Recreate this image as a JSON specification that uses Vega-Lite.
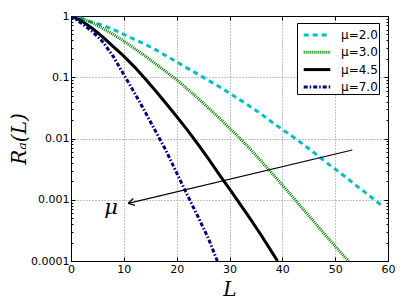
{
  "$schema": "https://vega.github.io/schema/vega-lite/v6.json",
  "width": 317,
  "height": 245,
  "autosize": {"type": "none"},
  "padding": {"left": 71, "top": 16, "right": 21, "bottom": 46},
  "background": "white",
  "config": {
    "view": {"stroke": "#000000", "strokeWidth": 1},
    "axis": {"domainColor": "#000000", "tickColor": "#000000", "labelFont": "DejaVu Sans", "labelFontSize": 11, "labelColor": "#000000"},
    "legend": {"labelFont": "DejaVu Sans", "labelFontSize": 12, "labelColor": "#000000"}
  },
  "datasets": {
    "curves": [
      {"L": 0, "R": 1, "series": "μ=2.0"},
      {"L": 2, "R": 0.912, "series": "μ=2.0"},
      {"L": 4, "R": 0.794, "series": "μ=2.0"},
      {"L": 6, "R": 0.708, "series": "μ=2.0"},
      {"L": 8, "R": 0.603, "series": "μ=2.0"},
      {"L": 10, "R": 0.501, "series": "μ=2.0"},
      {"L": 12, "R": 0.417, "series": "μ=2.0"},
      {"L": 14, "R": 0.347, "series": "μ=2.0"},
      {"L": 16, "R": 0.282, "series": "μ=2.0"},
      {"L": 18, "R": 0.224, "series": "μ=2.0"},
      {"L": 20, "R": 0.178, "series": "μ=2.0"},
      {"L": 22, "R": 0.141, "series": "μ=2.0"},
      {"L": 24, "R": 0.112, "series": "μ=2.0"},
      {"L": 26, "R": 0.0891, "series": "μ=2.0"},
      {"L": 28, "R": 0.0708, "series": "μ=2.0"},
      {"L": 30, "R": 0.055, "series": "μ=2.0"},
      {"L": 32, "R": 0.0427, "series": "μ=2.0"},
      {"L": 34, "R": 0.0331, "series": "μ=2.0"},
      {"L": 36, "R": 0.0251, "series": "μ=2.0"},
      {"L": 38, "R": 0.0186, "series": "μ=2.0"},
      {"L": 40, "R": 0.0141, "series": "μ=2.0"},
      {"L": 42, "R": 0.0107, "series": "μ=2.0"},
      {"L": 44, "R": 0.00794, "series": "μ=2.0"},
      {"L": 46, "R": 0.00589, "series": "μ=2.0"},
      {"L": 48, "R": 0.00427, "series": "μ=2.0"},
      {"L": 50, "R": 0.00316, "series": "μ=2.0"},
      {"L": 52, "R": 0.00234, "series": "μ=2.0"},
      {"L": 54, "R": 0.0017, "series": "μ=2.0"},
      {"L": 56, "R": 0.00126, "series": "μ=2.0"},
      {"L": 58, "R": 0.000912, "series": "μ=2.0"},
      {"L": 59, "R": 0.00078, "series": "μ=2.0"},
      {"L": 0, "R": 1, "series": "μ=3.0"},
      {"L": 2, "R": 0.912, "series": "μ=3.0"},
      {"L": 4, "R": 0.776, "series": "μ=3.0"},
      {"L": 6, "R": 0.631, "series": "μ=3.0"},
      {"L": 8, "R": 0.501, "series": "μ=3.0"},
      {"L": 10, "R": 0.389, "series": "μ=3.0"},
      {"L": 12, "R": 0.295, "series": "μ=3.0"},
      {"L": 14, "R": 0.224, "series": "μ=3.0"},
      {"L": 16, "R": 0.166, "series": "μ=3.0"},
      {"L": 18, "R": 0.123, "series": "μ=3.0"},
      {"L": 20, "R": 0.0912, "series": "μ=3.0"},
      {"L": 22, "R": 0.0646, "series": "μ=3.0"},
      {"L": 24, "R": 0.0457, "series": "μ=3.0"},
      {"L": 26, "R": 0.0316, "series": "μ=3.0"},
      {"L": 28, "R": 0.0219, "series": "μ=3.0"},
      {"L": 30, "R": 0.0148, "series": "μ=3.0"},
      {"L": 32, "R": 0.01, "series": "μ=3.0"},
      {"L": 34, "R": 0.00661, "series": "μ=3.0"},
      {"L": 36, "R": 0.00427, "series": "μ=3.0"},
      {"L": 38, "R": 0.00275, "series": "μ=3.0"},
      {"L": 40, "R": 0.00174, "series": "μ=3.0"},
      {"L": 42, "R": 0.0011, "series": "μ=3.0"},
      {"L": 44, "R": 0.000692, "series": "μ=3.0"},
      {"L": 46, "R": 0.000437, "series": "μ=3.0"},
      {"L": 48, "R": 0.000275, "series": "μ=3.0"},
      {"L": 50, "R": 0.000174, "series": "μ=3.0"},
      {"L": 52, "R": 0.000112, "series": "μ=3.0"},
      {"L": 52.6, "R": 0.0001, "series": "μ=3.0"},
      {"L": 0, "R": 1, "series": "μ=4.5"},
      {"L": 2, "R": 0.832, "series": "μ=4.5"},
      {"L": 4, "R": 0.631, "series": "μ=4.5"},
      {"L": 6, "R": 0.457, "series": "μ=4.5"},
      {"L": 8, "R": 0.316, "series": "μ=4.5"},
      {"L": 10, "R": 0.221, "series": "μ=4.5"},
      {"L": 12, "R": 0.148, "series": "μ=4.5"},
      {"L": 14, "R": 0.0955, "series": "μ=4.5"},
      {"L": 16, "R": 0.0603, "series": "μ=4.5"},
      {"L": 18, "R": 0.0372, "series": "μ=4.5"},
      {"L": 20, "R": 0.0229, "series": "μ=4.5"},
      {"L": 22, "R": 0.0138, "series": "μ=4.5"},
      {"L": 24, "R": 0.00813, "series": "μ=4.5"},
      {"L": 26, "R": 0.00468, "series": "μ=4.5"},
      {"L": 28, "R": 0.00263, "series": "μ=4.5"},
      {"L": 30, "R": 0.00151, "series": "μ=4.5"},
      {"L": 32, "R": 0.000851, "series": "μ=4.5"},
      {"L": 34, "R": 0.000479, "series": "μ=4.5"},
      {"L": 36, "R": 0.000263, "series": "μ=4.5"},
      {"L": 38, "R": 0.000141, "series": "μ=4.5"},
      {"L": 39.1, "R": 0.0001, "series": "μ=4.5"},
      {"L": 0, "R": 1, "series": "μ=7.0"},
      {"L": 2, "R": 0.759, "series": "μ=7.0"},
      {"L": 4, "R": 0.562, "series": "μ=7.0"},
      {"L": 6, "R": 0.38, "series": "μ=7.0"},
      {"L": 8, "R": 0.219, "series": "μ=7.0"},
      {"L": 10, "R": 0.11, "series": "μ=7.0"},
      {"L": 12, "R": 0.0562, "series": "μ=7.0"},
      {"L": 14, "R": 0.0275, "series": "μ=7.0"},
      {"L": 16, "R": 0.0132, "series": "μ=7.0"},
      {"L": 18, "R": 0.00631, "series": "μ=7.0"},
      {"L": 20, "R": 0.00275, "series": "μ=7.0"},
      {"L": 22, "R": 0.0012, "series": "μ=7.0"},
      {"L": 24, "R": 0.000537, "series": "μ=7.0"},
      {"L": 26, "R": 0.000234, "series": "μ=7.0"},
      {"L": 27.7, "R": 0.0001, "series": "μ=7.0"}
    ],
    "arrow": [
      {"L": 53.25, "R": 0.00649, "seg": "shaft"},
      {"L": 10.83, "R": 0.000875, "seg": "shaft"},
      {"L": 12.1, "R": 0.000811, "seg": "wing1"},
      {"L": 10.83, "R": 0.000875, "seg": "wing1"},
      {"L": 11.8, "R": 0.001047, "seg": "wing2"},
      {"L": 10.83, "R": 0.000875, "seg": "wing2"}
    ],
    "label": [
      {"L": 7.6, "R": 0.00074, "text": "μ"}
    ]
  },
  "resolve": {"axis": {"x": "independent", "y": "independent"}},
  "layer": [
    {
      "data": {"name": "curves"},
      "mark": {"type": "line", "strokeWidth": 3, "clip": true, "strokeJoin": "round"},
      "encoding": {
        "x": {
          "field": "L", "type": "quantitative",
          "scale": {"domain": [0, 60], "nice": false, "zero": false},
          "axis": {
            "orient": "bottom",
            "values": [0, 10, 20, 30, 40, 50, 60],
            "grid": true, "gridDash": [1, 2], "gridColor": "#888888", "gridWidth": 1,
            "tickSize": -4, "labelPadding": 6, "labelFlush": false,
            "title": "L", "titleFont": "DejaVu Serif", "titleFontStyle": "italic", "titleFontWeight": "normal", "titleFontSize": 20, "titlePadding": 5, "titleColor": "#000000"
          }
        },
        "y": {
          "field": "R", "type": "quantitative",
          "scale": {"type": "log", "domain": [0.0001, 1], "nice": false, "zero": false},
          "axis": {
            "orient": "left",
            "values": [0.0001, 0.0002, 0.0003, 0.0004, 0.0005, 0.0006, 0.0007, 0.0008, 0.0009, 0.001, 0.002, 0.003, 0.004, 0.005, 0.006, 0.007, 0.008, 0.009, 0.01, 0.02, 0.03, 0.04, 0.05, 0.06, 0.07, 0.08, 0.09, 0.1, 0.2, 0.3, 0.4, 0.5, 0.6, 0.7, 0.8, 0.9, 1],
            "labelExpr": "indexof([1, 0.1, 0.01, 0.001, 0.0001], datum.value) >= 0 ? format(datum.value, '~g') : ''",
            "grid": true, "gridDash": [1, 2], "gridColor": "#888888", "gridWidth": 1,
            "gridOpacity": {"condition": {"test": "indexof([1, 0.1, 0.01, 0.001, 0.0001], datum.value) >= 0", "value": 1}, "value": 0},
            "tickSize": {"condition": {"test": "indexof([1, 0.1, 0.01, 0.001, 0.0001], datum.value) >= 0", "value": -4}, "value": -2},
            "labelPadding": 6, "labelFlush": false, "labelOverlap": false,
            "title": "Rₐ(L)", "titleFont": "DejaVu Serif", "titleFontStyle": "italic", "titleFontWeight": "normal", "titleFontSize": 20, "titlePadding": 1, "titleColor": "#000000"
          }
        },
        "color": {
          "field": "series", "type": "nominal",
          "scale": {"domain": ["μ=2.0", "μ=3.0", "μ=4.5", "μ=7.0"], "range": ["#00bfbf", "#008000", "#000000", "#000080"]},
          "legend": {
            "title": null, "orient": "none", "legendX": 226, "legendY": 7,
            "symbolType": "M-1.4,0H1.4", "symbolSize": 361, "symbolStrokeWidth": 3, "symbolOffset": 8,
            "strokeColor": "#000000", "fillColor": "#ffffff", "padding": 1, "rowPadding": 0.3, "labelOffset": 13
          }
        },
        "strokeDash": {
          "field": "series", "type": "nominal",
          "scale": {"domain": ["μ=2.0", "μ=3.0", "μ=4.5", "μ=7.0"], "range": [[5, 4], [1, 1], [4000, 1], [4, 2, 1.5, 2]]},
          "legend": {
            "title": null, "orient": "none", "legendX": 226, "legendY": 7,
            "symbolType": "M-1.4,0H1.4", "symbolSize": 361, "symbolStrokeWidth": 3, "symbolOffset": 8,
            "strokeColor": "#000000", "fillColor": "#ffffff", "padding": 1, "rowPadding": 0.3, "labelOffset": 13
          }
        }
      }
    },
    {
      "data": {"name": "arrow"},
      "mark": {"type": "line", "color": "#000000", "strokeWidth": 1.2},
      "encoding": {
        "x": {
          "field": "L", "type": "quantitative",
          "scale": {"domain": [0, 60], "nice": false, "zero": false},
          "axis": {"orient": "top", "values": [0, 10, 20, 30, 40, 50, 60], "labels": false, "tickSize": -4, "grid": false, "title": null}
        },
        "y": {
          "field": "R", "type": "quantitative",
          "scale": {"type": "log", "domain": [0.0001, 1], "nice": false, "zero": false},
          "axis": {
            "orient": "right",
            "values": [0.0001, 0.0002, 0.0003, 0.0004, 0.0005, 0.0006, 0.0007, 0.0008, 0.0009, 0.001, 0.002, 0.003, 0.004, 0.005, 0.006, 0.007, 0.008, 0.009, 0.01, 0.02, 0.03, 0.04, 0.05, 0.06, 0.07, 0.08, 0.09, 0.1, 0.2, 0.3, 0.4, 0.5, 0.6, 0.7, 0.8, 0.9, 1],
            "labels": false, "grid": false, "title": null,
            "tickSize": {"condition": {"test": "indexof([1, 0.1, 0.01, 0.001, 0.0001], datum.value) >= 0", "value": -4}, "value": -2}
          }
        },
        "detail": {"field": "seg", "type": "nominal"}
      }
    },
    {
      "data": {"name": "label"},
      "mark": {"type": "text", "font": "DejaVu Serif", "fontStyle": "italic", "fontSize": 21, "align": "center", "baseline": "middle", "color": "#000000"},
      "encoding": {
        "x": {"field": "L", "type": "quantitative", "scale": {"domain": [0, 60], "nice": false, "zero": false}, "axis": null},
        "y": {"field": "R", "type": "quantitative", "scale": {"type": "log", "domain": [0.0001, 1], "nice": false, "zero": false}, "axis": null},
        "text": {"field": "text"}
      }
    }
  ]
}
